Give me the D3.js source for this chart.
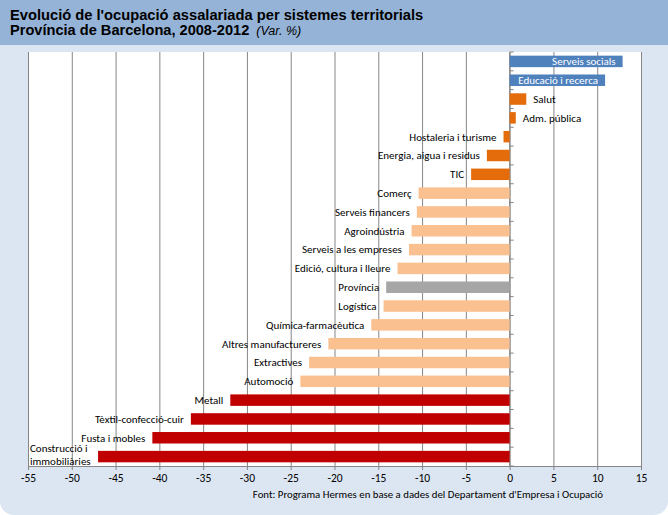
<!DOCTYPE html>
<html>
<head>
<meta charset="utf-8">
<script src="https://cdn.jsdelivr.net/npm/d3@7"></script>
<style>
  body { margin: 0; background: #ffffff; }
  svg { display: block; }
</style>
</head>
<body>
<script>
// Dades: variació de l'ocupació assalariada 2008-2012 (%)
var categories = [
  "Serveis socials", "Educació i recerca", "Salut", "Adm. pública",
  "Hostaleria i turisme", "Energia, aigua i residus", "TIC",
  "Comerç", "Serveis financers", "Agroindústria", "Serveis a les empreses",
  "Edició, cultura i lleure", "Província", "Logística", "Química-farmacèutica",
  "Altres manufactureres", "Extractives", "Automoció",
  "Metall", "Tèxtil-confecció-cuir", "Fusta i mobles", "Construcció i immobiliàries"
];
var values = [
  12.9, 10.9, 1.9, 0.7,
  -0.7, -2.6, -4.4,
  -10.4, -10.6, -11.2, -11.5,
  -12.8, -14.1, -14.4, -15.8,
  -20.7, -22.9, -23.9,
  -31.9, -36.4, -40.8, -47.0
];
// grup de cada sistema (per al color)
var groups = [
  "alt", "alt", "positiu", "positiu",
  "moderat", "moderat", "moderat",
  "mitja", "mitja", "mitja", "mitja",
  "mitja", "total", "mitja", "mitja",
  "mitja", "mitja", "mitja",
  "fort", "fort", "fort", "fort"
];
var xTicks = [-55, -50, -45, -40, -35, -30, -25, -20, -15, -10, -5, 0, 5, 10, 15];

var data = categories.map(function(c, i) {
  return { name: c, value: values[i], group: groups[i] };
});

// Mida de l'àrea SVG
var svgWidth = 668;
var svgHeight = 515;

// Marges de l'àrea del gràfic
var chartMargin = { top: 52, right: 27, bottom: 49, left: 28 };
var chartWidth = svgWidth - chartMargin.left - chartMargin.right;
var chartHeight = svgHeight - chartMargin.top - chartMargin.bottom;

var svg = d3.select("body")
            .append("svg")
            .attr("width", svgWidth)
            .attr("height", svgHeight);

// fons i capçalera
svg.append("rect")
   .attr("x", 0).attr("y", 0)
   .attr("width", svgWidth).attr("height", svgHeight)
   .attr("rx", 14)
   .style("fill", "#dce6f2");

svg.append("rect")
   .attr("x", 0).attr("y", 0)
   .attr("width", svgWidth).attr("height", 45)
   .style("fill", "#95b3d7");

var title = svg.append("g")
               .style("font-family", "'Liberation Sans', Arial, sans-serif")
               .style("fill", "#000");

title.append("text")
     .attr("x", 10).attr("y", 20)
     .style("font-size", "14.7px")
     .style("font-weight", "bold")
     .text("Evolució de l'ocupació assalariada per sistemes territorials");

var line2 = title.append("text")
                 .attr("x", 10).attr("y", 35)
                 .style("font-size", "14.6px");
line2.append("tspan")
     .style("font-weight", "bold")
     .text("Província de Barcelona, 2008-2012");
line2.append("tspan")
     .attr("dx", 7)
     .style("font-style", "italic")
     .style("font-size", "12.5px")
     .text("(Var. %)");

var chartGroup = svg.append("g")
                    .attr("transform", `translate(${chartMargin.left}, ${chartMargin.top})`);

// Escales
var x = d3.scaleLinear()
          .domain([-55, 15])
          .range([0, chartWidth]);

var y = d3.scaleBand()
          .domain(categories)
          .range([0, chartHeight])
          .paddingInner(0.39)
          .paddingOuter(0.195);

var color = d3.scaleOrdinal()
              .domain(["alt", "positiu", "moderat", "mitja", "total", "fort"])
              .range(["#4f81bd", "#e46c0a", "#e46c0a", "#fac090", "#a6a6a6", "#c00000"]);

var labelFont = "Carlito, Calibri, Lato, sans-serif";

// àrea del gràfic
chartGroup.append("rect")
          .attr("width", chartWidth)
          .attr("height", chartHeight)
          .style("fill", "#ffffff");

// eix X amb línies de graella
var xAxis = chartGroup.append("g")
                      .attr("transform", "translate(0," + chartHeight + ")")
                      .call(d3.axisBottom(x)
                              .tickValues(xTicks)
                              .tickFormat(function(d) { return String(d); })
                              .tickSize(-chartHeight)
                              .tickSizeOuter(0)
                              .tickPadding(8));

xAxis.select(".domain").attr("stroke", "#868686");
xAxis.selectAll(".tick line").attr("stroke", "#868686");
xAxis.selectAll(".tick")
     .append("line")
     .attr("y1", 0).attr("y2", 4)
     .attr("stroke", "#868686");
xAxis.selectAll(".tick text")
     .style("font-family", labelFont)
     .style("font-size", "11.5px")
     .style("fill", "#000");

// eix vertical al zero amb marques entre categories
var bounds = d3.range(categories.length + 1).map(function(i) { return i * y.step(); });
chartGroup.selectAll(".ytick")
          .data(bounds)
          .enter()
          .append("line")
          .attr("x1", x(0)).attr("x2", x(0) + 4)
          .attr("y1", function(d) { return d; })
          .attr("y2", function(d) { return d; })
          .attr("stroke", "#868686");
chartGroup.append("line")
          .attr("x1", x(0)).attr("x2", x(0))
          .attr("y1", 0).attr("y2", chartHeight)
          .attr("stroke", "#868686");

// Barres
chartGroup.selectAll(".bar")
          .data(data)
          .enter()
          .append("rect")
          .attr("x", function(d) { return x(Math.min(0, d.value)); })
          .attr("y", function(d) { return y(d.name); })
          .attr("width", function(d) { return Math.abs(x(d.value) - x(0)); })
          .attr("height", y.bandwidth())
          .style("fill", function(d) { return color(d.group); });

// Etiquetes
var labels = chartGroup.selectAll(".label")
                       .data(data)
                       .enter()
                       .append("text")
                       .attr("y", function(d) { return y(d.name) + y.bandwidth() / 2; })
                       .attr("dy", "0.35em")
                       .style("font-family", labelFont)
                       .style("font-size", "11px")
                       .text(function(d) { return d.name; });

labels.each(function(d) {
  var t = d3.select(this);
  var w = this.getComputedTextLength();
  var barLen = Math.abs(x(d.value) - x(0));
  if (d.value > 0 && barLen > w + 12) {
    // dins la barra
    t.attr("x", x(d.value) - 7).attr("text-anchor", "end").style("fill", "#ffffff");
  } else if (d.value > 0) {
    t.attr("x", x(d.value) + 7).attr("text-anchor", "start").style("fill", "#000");
  } else if (x(d.value) - 7 - w < 0) {
    // no cap: dues línies a l'esquerra
    var words = d.name.split(" ");
    var first = words.slice(0, words.length - 1).join(" ");
    var last = words[words.length - 1];
    t.text(null).attr("text-anchor", "start").style("fill", "#000");
    t.append("tspan").attr("x", 2).attr("dy", "-0.4em").text(first);
    t.append("tspan").attr("x", 2).attr("dy", "1.15em").text(last);
  } else {
    t.attr("x", x(d.value) - 7).attr("text-anchor", "end").style("fill", "#000");
  }
});

// Font
svg.append("text")
   .attr("x", 603)
   .attr("y", 498)
   .attr("text-anchor", "end")
   .style("font-family", labelFont)
   .style("font-size", "10.8px")
   .style("fill", "#000")
   .text("Font: Programa Hermes en base a dades del Departament d'Empresa i Ocupació");
</script>
</body>
</html>
